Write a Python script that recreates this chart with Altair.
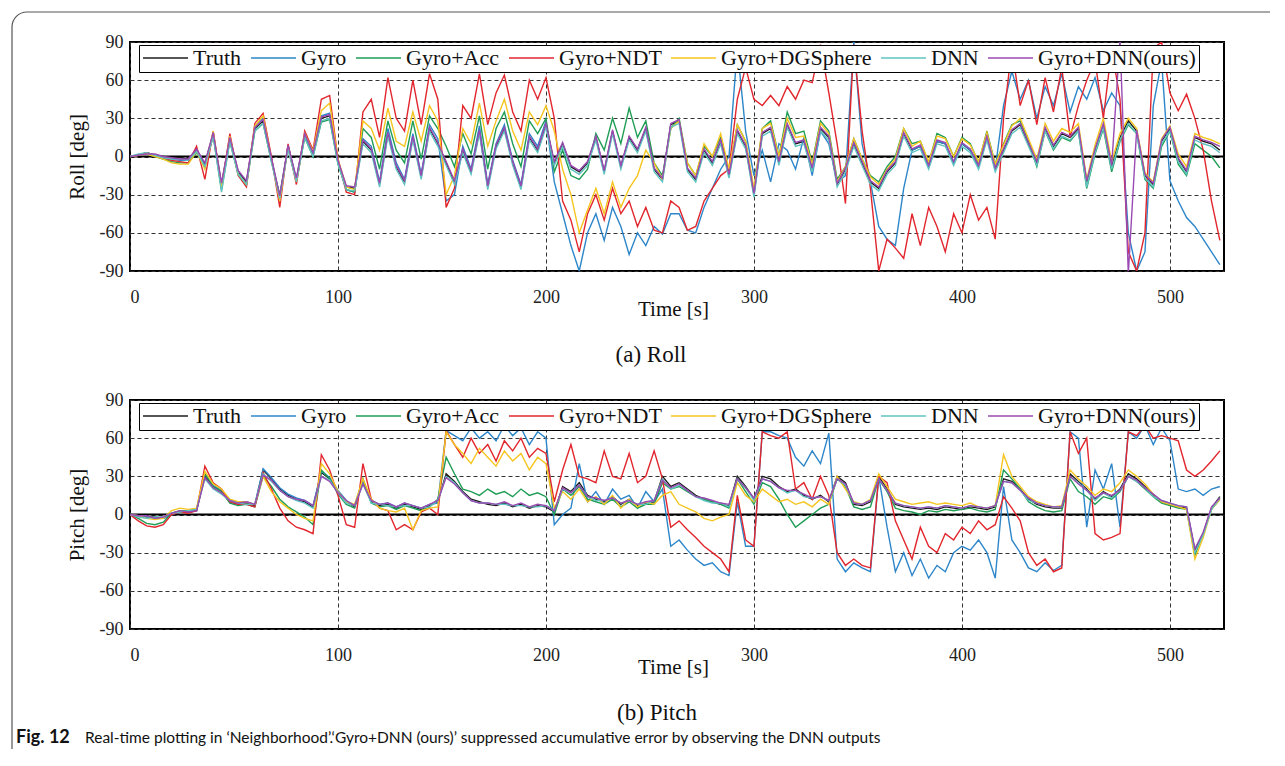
import altair as alt
import pandas as pd

TIME = list(range(0, 528, 4))
SERIES = ["Truth", "Gyro", "Gyro+Acc", "Gyro+NDT", "Gyro+DGSphere", "DNN", "Gyro+DNN(ours)"]
COLORS = ["#1e1e1e", "#2d86c9", "#1f9d55", "#e2262d", "#f6c51f", "#5fc4c1", "#9a4ab2"]
X_TICKS = [0, 100, 200, 300, 400, 500]
Y_TICKS = [-90, -60, -30, 0, 30, 60, 90]
CAPTION = "Real-time plotting in \u2018Neighborhood\u2019.\u2018Gyro+DNN (ours)\u2019 suppressed accumulative error by observing the DNN outputs"

# ---------------- Roll ----------------
ROLL_TRUTH = [
    0, 1, 3, 1, 0, -1, -1, -2, 5, -6, 18,
    -22, 14, -12, -20, 22, 28, -2, -32, 8, -18, 17,
    2, 30, 32, -4, -24, -25, 12, 5, -22, 18, -8,
    -20, 15, -16, 22, 10, -5, -20, 5, -12, 20, -24,
    8, 22, -5, -24, 15, 5, 25, -5, 10, -8, -12,
    -5, 15, -12, 20, -8, 15, 5, 22, -10, -18, 25,
    28, -10, -18, 5, -5, 12, -15, 20, 8, -30, 18,
    22, -5, 25, 10, 12, -10, 22, 15, -22, -10, 10,
    -5, -20, -25, -12, -5, 18, 5, 8, -8, 12, 10,
    -5, 10, 5, -8, 15, -10, 5, 20, 25, 10, -5,
    22, 8, 18, 15, 22, -20, 5, 25, -8, 15, 28,
    20, -15, -22, 12, 22, -2, -12, 15, 12, 10, 5]
ROLL_GYRO = [
    0, 1, 3, 1, -1, -2, -3, -3, 6, -8, 18,
    -24, 15, -13, -22, 23, 30, -2, -35, 9, -19, 17,
    2, 32, 34, -4, -26, -28, 14, 8, -20, 22, -5,
    -18, 18, -14, 25, 14, -35, -30, 8, -10, 24, -22,
    10, 25, -3, -22, 18, 8, 28, -20, -45, -70, -90,
    -60, -45, -66, -40, -55, -77, -60, -70, -55, -61, -45,
    -45, -58, -60, -40, -25, -10, 0, 85, 20, -15, 5,
    -20, 10, 5, -10, 15, -15, 20, 10, -20, -15, 90,
    10, -20, -55, -65, -70, -25, 5, 8, -8, 12, 10,
    -5, 10, 5, -8, 15, -10, 40, 67, 45, 60, 30,
    55, 40, 65, 35, 55, 45, 62, 36, 50, 40, -60,
    -90, -75, 40, 75, -19, -35, -48, -55, -65, -75, -85]
ROLL_ACC = [
    0, 1, 2, 0, -2, -4, -5, -5, 3, -8, 16,
    -26, 12, -14, -22, 20, 26, -4, -30, 6, -20, 15,
    0, 27, 29, -6, -26, -28, 22, 15, -10, 28, 5,
    -5, 28, -2, 32, 22, 8, -8, 18, 2, 32, -10,
    22, 35, 10, -8, 28, 18, 30, -12, 5, -15, -18,
    -10, 18, 5, 30, 10, 38, 15, 28, -5, -15, 22,
    30, -5, -15, 8, 0, 15, -12, 25, 12, -28, 22,
    28, 0, 35, 18, 20, -5, 28, 20, -18, -8, 14,
    -2, -15, -20, -8, 0, 22, 10, 12, -5, 18, 15,
    0, 15, 10, -5, 20, -6, 10, 25, 28, 12, -8,
    20, 5, 15, 12, 20, -25, 2, 22, -12, 12, 25,
    18, -18, -25, 8, 20, -6, -15, 10, 5, 0, -9]
ROLL_NDT = [
    0, 1, 3, 1, -1, -3, -4, -5, 8, -18, 20,
    -25, 18, -15, -24, 26, 34, 0, -40, 10, -22, 20,
    5, 45, 48, -2, -28, -30, 35, 45, 15, 62, 30,
    20, 60, 25, 65, 45, -40, -25, 40, 30, 65, 25,
    50, 64, 35, 20, 60, 45, 62, 30, -35, -50, -75,
    -45, -30, -50, -25, -45, -35, -55, -40, -58, -60, -35,
    -40, -58, -55, -35, -25, -15, -10, 45, 70, 45, 40,
    48, 40, 55, 45, 60, 58, 88, 50, 10, -37, 88,
    20, -25, -90, -65, -72, -80, -45, -70, -40, -55, -75,
    -45, -60, -30, -50, -40, -65, 30, 85, 40, 60, 25,
    62, 35, 70, 15, 40, 60, 75, 30, 85, 45, -75,
    -90, -60, 85, 90, 50, 36, 49, 30, 5, -35, -66]
ROLL_DGS = [
    0, 1, 2, 0, -2, -5, -6, -6, 4, -10, 20,
    -24, 16, -14, -22, 24, 32, -2, -35, 8, -20, 18,
    4, 36, 42, -2, -24, -26, 28, 22, 5, 38, 12,
    8, 35, 12, 40, 28, -30, -15, 22, 10, 42, 8,
    28, 45, 20, 5, 35, 25, 40, 20, -10, -30, -60,
    -42, -25, -45, -20, -40, -25, -15, 5, -5, -18, 22,
    28, -5, -15, 10, 0, 18, -10, 25, 12, -25, 22,
    26, 0, 30, 15, 16, -6, 26, 18, -20, -8, 14,
    -2, -16, -22, -10, -2, 22, 8, 12, -4, 16, 14,
    0, 14, 9, -4, 19, -6, 9, 24, 30, 14, -2,
    26, 12, 22, 19, 26, -18, 9, 30, -4, 18, 30,
    22, -13, -20, 14, 24, 2, -8, 18, 15, 13, 10]
ROLL_DNN = [
    0, 2, 3, 1, -1, -2, -2, -3, 4, -8, 16,
    -28, 12, -14, -22, 20, 26, -4, -33, 6, -20, 15,
    0, 28, 30, -6, -26, -27, 10, 3, -24, 16, -10,
    -22, 13, -18, 20, 8, -7, -22, 3, -14, 18, -26,
    6, 20, -7, -26, 13, 3, 23, -7, 8, -10, -14,
    -7, 13, -14, 18, -10, 13, 3, 20, -12, -20, 23,
    26, -12, -20, 3, -7, 10, -17, 18, 6, -32, 16,
    20, -7, 23, 8, 10, -12, 20, 13, -24, -12, 8,
    -7, -22, -27, -14, -7, 16, 3, 6, -10, 10, 8,
    -7, 8, 3, -10, 13, -12, 3, 18, 23, 8, -7,
    20, 6, 16, 13, 20, -24, 3, 23, -10, 13, 26,
    18, -17, -24, 10, 20, -4, -14, 13, 10, 8, 3]
ROLL_OURS = [
    0, 1, 2, 2, 0, -1, -2, -2, 6, -5, 19,
    -21, 15, -11, -19, 23, 29, -1, -31, 9, -17, 18,
    3, 31, 33, -3, -23, -24, 13, 6, -21, 19, -7,
    -19, 16, -15, 23, 11, -4, -19, 6, -11, 21, -23,
    9, 23, -4, -23, 16, 6, 26, -4, 11, -7, -11,
    -4, 16, -11, 21, -7, 16, 6, 23, -9, -17, 26,
    29, -9, -17, 6, -4, 13, -14, 21, 9, -29, 19,
    23, -4, 26, 11, 13, -9, 23, 16, -21, -9, 11,
    -4, -19, -24, -11, -4, 19, 6, 9, -7, 13, 11,
    -4, 11, 6, -7, 16, -9, 6, 21, 26, 11, -4,
    23, 9, 19, 16, 23, -19, 6, 26, -7, 92, -92,
    21, -14, -21, 13, 23, -1, -11, 16, 13, 11, 8]

# ---------------- Pitch ----------------
PITCH_TRUTH = [
    0, -1, -2, -2, -3, 0, 2, 2, 3, 30, 22,
    18, 10, 8, 9, 7, 35, 28, 20, 15, 12, 10,
    6, 33, 28, 18, 10, 6, 26, 10, 7, 8, 5,
    8, 6, 4, 7, 10, 32, 26, 18, 12, 10, 8,
    7, 9, 6, 8, 5, 7, 6, 2, 22, 18, 25,
    15, 12, 10, 14, 8, 12, 7, 9, 10, 30, 22,
    25, 20, 15, 12, 10, 8, 7, 30, 22, 12, 30,
    28, 22, 18, 20, 15, 12, 15, 10, 30, 25, 8,
    7, 10, 30, 20, 8, 6, 5, 4, 5, 4, 6,
    5, 4, 6, 5, 4, 6, 28, 26, 20, 12, 8,
    6, 5, 5, 32, 26, 20, 12, 18, 14, 20, 32,
    28, 22, 15, 10, 8, 6, 5, -28, -15, 5, 14]
PITCH_GYRO = [
    0, -1, -2, -3, -3, 0, 2, 3, 3, 32, 23,
    19, 11, 9, 10, 8, 36, 29, 21, 16, 13, 11,
    7, 34, 29, 19, 11, 7, 27, 11, 8, 9, 6,
    9, 7, 5, 8, 9, 66, 62, 58, 68, 60, 65,
    58, 70, 62, 68, 55, 65, 60, -8, 0, 5, 40,
    10, 18, 8, 20, 12, 15, 5, 18, 10, 20, -25,
    -20, -28, -35, -40, -38, -45, -48, 10, -25, -25, 65,
    65, 62, 60, 45, 38, 50, 40, 64, -35, -45, -38,
    -42, -45, 30, -10, -45, -30, -48, -35, -50, -40, -45,
    -30, -25, -28, -20, -30, -50, 22, -20, -30, -42, -45,
    -38, -44, -40, 65, 60, -10, 35, 20, 40, -10, 65,
    60, 70, 55, 68, 58, 20, 18, 20, 15, 20, 22]
PITCH_ACC = [
    0, -3, -7, -8, -6, 1, 3, 3, 4, 32, 22,
    18, 9, 7, 8, 6, 30, 22, 12, 6, 2, -2,
    -8, 35, 28, 16, 8, 5, 28, 9, 6, 7, 4,
    7, 5, 3, 6, 12, 45, 32, 20, 18, 15, 20,
    16, 18, 14, 20, 15, 17, 14, 0, 20, 15, 22,
    12, 10, 8, 12, 6, 10, 5, 8, 8, 25, 20,
    22, 18, 14, 12, 10, 8, 5, 28, 18, 8, 25,
    22, 12, 0, -10, -5, 0, 5, 8, 28, 22, 6,
    4, 6, 28, 18, 5, 3, 2, 0, 3, 2, 4,
    3, 4, 5, 3, 2, 4, 35, 28, 20, 10, 6,
    3, 2, 3, 28, 18, 14, 8, 14, 12, 18, 30,
    26, 20, 14, 9, 7, 5, 4, -32, -15, 4, 12]
PITCH_NDT = [
    0, -5, -9, -10, -8, 0, 2, 1, 3, 38, 25,
    20, 10, 8, 8, 6, 33, 20, 5, -5, -10, -12,
    -15, 47, 35, 15, -8, -10, 40, 12, 5, 3, -12,
    -8, -12, 2, 5, 0, 66, 55, 45, 60, 48, 55,
    42, 58, 50, 60, 45, 52, 48, 10, 35, 55, 30,
    28, 25, 50, 30, 28, 48, 25, 30, 50, 28, -10,
    -5, -12, -18, -25, -30, -35, -45, 15, -20, -25, 65,
    62, 60, 65, 20, 25, 12, 30, 15, -30, -40, -35,
    -40, -42, 30, 25, -5, -20, -35, -10, -25, -30, -15,
    -20, -10, -15, -5, -12, -8, 14, 5, -5, -30, -40,
    -35, -45, -42, 65, 48, 60, -15, -20, -18, -15, 65,
    62, 70, 60, 62, 60, 58, 35, 30, 35, 42, 50]
PITCH_DGS = [
    0, -1, -3, -4, -3, 3, 5, 4, 5, 34, 24,
    20, 12, 10, 10, 8, 30, 18, 10, 5, 0, -3,
    -5, 40, 32, 18, 10, 8, 28, 12, 5, 3, 2,
    5, -12, 3, 5, 6, 65, 55, 48, 40, 52, 45,
    38, 50, 42, 48, 35, 45, 40, 5, 18, 12, 20,
    10, 14, 8, 15, 5, 12, 6, 10, 8, 15, 18,
    8, 5, 2, -3, -5, -2, 0, 25, 15, 10, 20,
    15, 10, 12, 8, 10, 6, 12, 8, 30, 20, 10,
    8, 12, 32, 22, 12, 10, 8, 9, 10, 8, 9,
    8, 7, 9, 6, 5, 7, 47, 30, 22, 14, 10,
    8, 6, 7, 35, 28, 22, 15, 20, 18, 25, 35,
    30, 24, 16, 10, 8, 6, 4, -35, -18, 4, 12]
PITCH_DNN = [
    0, -2, -3, -2, -2, 1, 2, 3, 4, 28, 20,
    16, 11, 9, 8, 8, 32, 26, 19, 14, 11, 9,
    5, 30, 27, 17, 9, 7, 24, 9, 8, 7, 6,
    7, 7, 5, 6, 11, 30, 25, 17, 11, 9, 9,
    8, 8, 7, 7, 6, 6, 7, 3, 20, 17, 23,
    14, 11, 11, 13, 9, 11, 8, 8, 11, 28, 20,
    23, 19, 14, 11, 9, 9, 6, 28, 21, 11, 28,
    26, 21, 17, 19, 14, 13, 14, 11, 28, 23, 9,
    8, 11, 28, 19, 9, 7, 6, 5, 6, 5, 7,
    6, 5, 7, 6, 5, 7, 26, 25, 19, 11, 9,
    7, 6, 6, 30, 25, 19, 11, 17, 13, 19, 30,
    26, 21, 14, 11, 9, 7, 6, -30, -16, 4, 13]
PITCH_OURS = [
    0, -1, -1, -3, -2, 1, 3, 2, 3, 29, 21,
    17, 11, 9, 10, 8, 31, 27, 19, 14, 12, 11,
    7, 30, 26, 17, 11, 7, 24, 11, 8, 9, 6,
    9, 7, 5, 8, 11, 29, 24, 17, 11, 9, 9,
    8, 10, 7, 9, 6, 8, 7, 3, 21, 17, 23,
    14, 13, 11, 13, 9, 11, 8, 10, 11, 27, 21,
    24, 19, 14, 13, 11, 9, 8, 28, 21, 13, 28,
    26, 21, 19, 19, 16, 13, 14, 11, 28, 24, 9,
    8, 11, 28, 19, 9, 7, 6, 5, 6, 5, 7,
    6, 5, 7, 6, 5, 7, 26, 25, 19, 13, 9,
    7, 6, 6, 30, 24, 19, 13, 17, 15, 19, 30,
    27, 21, 16, 11, 9, 7, 6, -27, -14, 6, 13]

ROLL = [ROLL_TRUTH, ROLL_GYRO, ROLL_ACC, ROLL_NDT, ROLL_DGS, ROLL_DNN, ROLL_OURS]
PITCH = [PITCH_TRUTH, PITCH_GYRO, PITCH_ACC, PITCH_NDT, PITCH_DGS, PITCH_DNN, PITCH_OURS]


def long_df(lists):
    rows = []
    for k, (name, vals) in enumerate(zip(SERIES, lists)):
        for t, v in zip(TIME, vals):
            rows.append({"t": t, "v": v, "series": name, "k": k})
    return pd.DataFrame(rows)


SERIF = "Times New Roman, Liberation Serif, serif"
W, H = 1094, 229
one = pd.DataFrame({"a": [0]})


def panel(lists, ytitle, sublabel, label_dx, extra):
    df = long_df(lists)
    legend = alt.Legend(
        title=None, orient="none", legendX=9, legendY=3, direction="horizontal", columns=7,
        symbolType="stroke", symbolSize=2025, symbolStrokeWidth=1.5, clipHeight=20,
        labelFont=SERIF, labelFontSize=22, labelColor="#111", labelOffset=4, labelLimit=0,
        columnPadding=8, padding=3, fillColor="white", strokeColor="black",
    )
    x = alt.X("t:Q", scale=alt.Scale(domain=[0, 526], nice=False, zero=False),
              axis=alt.Axis(values=X_TICKS, title="Time [s]", grid=True, gridDash=[4, 3],
                            gridColor="#333", gridWidth=1, ticks=False, tickSize=0, domain=False,
                            labelPadding=17, labelFont=SERIF, labelFontSize=18, labelColor="#222",
                            labelFontWeight="normal",
                            labelOverlap=False, labelExpr="'' + datum.value",
                            titleFont=SERIF, titleFontSize=21, titleFontWeight="normal",
                            titleColor="#111", titleX=543, titleY=44, titleBaseline="alphabetic",
                            titleAlign="center"))
    y = alt.Y("v:Q", scale=alt.Scale(domain=[-90, 90], nice=False),
              axis=alt.Axis(values=Y_TICKS, title=ytitle, grid=True, gridDash=[4, 3],
                            gridColor="#333", gridWidth=1, ticks=False, tickSize=0, domain=False,
                            labelPadding=7, labelFont=SERIF, labelFontSize=18, labelColor="#222",
                            labelFontWeight="normal",
                            labelOverlap=False, labelFlush=False, labelExpr="'' + datum.value",
                            titleFont=SERIF, titleFontSize=21, titleFontWeight="normal",
                            titleColor="#111", titlePadding=12))
    lines = alt.Chart(df).mark_line(strokeWidth=1.4, clip=True).encode(
        x=x, y=y,
        color=alt.Color("series:N", scale=alt.Scale(domain=SERIES, range=COLORS), legend=legend),
        detail="k:O",
    )
    zero = alt.Chart(pd.DataFrame({"v": [0]})).mark_rule(color="black", strokeWidth=2.2).encode(y=y)
    lab = alt.Chart(one).mark_text(text=sublabel, font=SERIF, fontSize=23, color="#111",
                                   align="center", baseline="alphabetic").encode(
        x=alt.value(label_dx), y=alt.value(320))
    return alt.layer(zero, lines, lab, *extra).properties(width=W, height=H)


frame_top = alt.Chart(one).mark_rule(color="#555", strokeWidth=1.2).encode(
    x=alt.value(-103), x2=alt.value(1140), y=alt.value(-30))
frame_left = alt.Chart(one).mark_rule(color="#555", strokeWidth=1.2).encode(
    x=alt.value(-118), y=alt.value(-15), y2=alt.value(707))
corner = alt.Chart(one).mark_arc(radius=15, radius2=15, theta=4.712389, theta2=6.283185,
                                 fillOpacity=0, stroke="#555", strokeWidth=1.2).encode(
    x=alt.value(-103), y=alt.value(-15))

cap1 = alt.Chart(one).mark_text(text="Fig. 12", font="Lato", fontWeight="bold", fontSize=18,
                                color="#111", align="left", baseline="alphabetic").encode(
    x=alt.value(-114), y=alt.value(343))
cap2 = alt.Chart(one).mark_text(text=CAPTION, font="Lato", fontSize=15.5, color="#111",
                                align="left", baseline="alphabetic").encode(
    x=alt.value(-45), y=alt.value(343))

top = panel(ROLL, "Roll [deg]", "(a) Roll", 521, [frame_top, frame_left, corner])
bottom = panel(PITCH, "Pitch [deg]", "(b) Pitch", 527, [cap1, cap2])

chart = alt.vconcat(top, bottom, spacing=129, bounds="flush").resolve_scale(
    color="independent").resolve_legend(color="independent").properties(
    padding={"left": 0, "top": 0, "right": 0, "bottom": 0}).configure_view(
    stroke="black", strokeWidth=2).configure_axis(labelFont=SERIF, titleFont=SERIF)

chart.save("out.html", embed_options={"renderer": "svg", "actions": False})
